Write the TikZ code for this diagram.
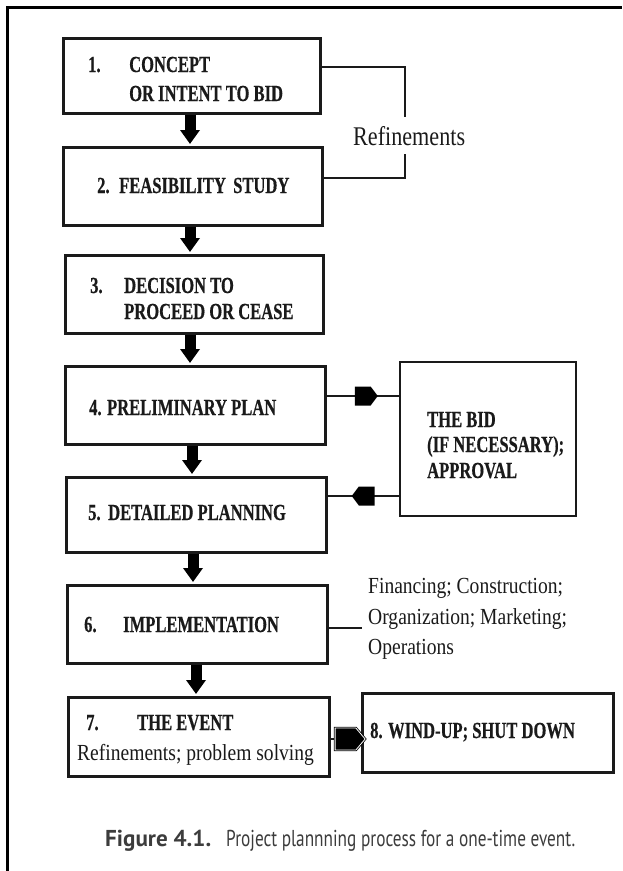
\documentclass[tikz,border=0pt]{standalone}
\usepackage{fontspec}
\usepackage{graphicx}
\usetikzlibrary{arrows.meta,shapes.arrows,calc}

% condensed Times-like faces for the stage labels and notes
\newfontfamily\boxfont[FakeStretch=0.72, FakeBold=0.5]{Liberation Serif}
\newfontfamily\notefont[FakeStretch=0.85]{Liberation Serif}
\newfontfamily\bracefont[FakeStretch=0.82]{Liberation Serif}
\newfontfamily\capfont{PT Sans}

\definecolor{ink}{HTML}{1A1A1A}

\tikzset{
  stage/.style={draw=ink, line width=3pt, inner sep=0pt, fill=white},
  heading/.style={anchor=base west, inner sep=0pt, text=ink,
    font={\boxfont\bfseries\fontsize{23}{27}\selectfont}},
  note/.style={anchor=base west, inner sep=0pt, text=ink,
    font={\notefont\fontsize{23}{27}\selectfont}},
  flow/.style={black, line width=11pt, -{Triangle[width=19pt,length=14pt]}, shorten >=1.5pt},
  link/.style={draw=ink, line width=2pt},
  blockhead/.style={single arrow, single arrow head extend=0pt, fill=black,
    inner sep=0pt, minimum width=19pt, minimum height=23pt, single arrow tip angle=106},
  caption/.style={anchor=base west, inner sep=0pt, text=ink!85,
    font={\capfont\fontsize{23}{27}\selectfont}},
}

\begin{document}
\begin{tikzpicture}[x=1pt,y=-1pt]
\useasboundingbox (0,0) rectangle (622,871);

% page frame
\draw[black, line width=3pt] (7,871) -- (7,7) -- (622,7);

% stage boxes
\node[stage, minimum width=257pt, minimum height=75pt] (b1) at (191.5,75.5) {};
\node[stage, minimum width=259pt, minimum height=78pt] (b2) at (192.5,186) {};
\node[stage, minimum width=258pt, minimum height=78pt] (b3) at (194,294) {};
\node[stage, minimum width=260pt, minimum height=78pt] (b4) at (195,405) {};
\node[stage, minimum width=260pt, minimum height=75pt] (b5) at (196,514.5) {};
\node[stage, minimum width=260pt, minimum height=78pt] (b6) at (197,624) {};
\node[stage, minimum width=261pt, minimum height=79pt] (b7) at (198.5,736.5) {};
\node[stage, minimum width=251pt, minimum height=79pt] (b8) at (487.5,732.5) {};
\node[stage, line width=2.2pt, minimum width=176pt, minimum height=154pt] (bid) at (488,439) {};

% stage labels
\node[heading] (t1n) at (88,72) {1.};
\node[heading] (t1a) at (129,72) {CONCEPT};
\node[heading] (t1b) at (129,101) {OR INTENT TO BID};
\node[heading] (t2n) at (97,193) {2.};
\node[heading] (t2a) at (119,193) {FEASIBILITY};
\node[heading] (t2b) at (233,193) {STUDY};
\node[heading] (t3n) at (90,293) {3.};
\node[heading] (t3a) at (124,293) {DECISION TO};
\node[heading] (t3b) at (124,319) {PROCEED OR CEASE};
\node[heading] (t4) at (89,415) {4. PRELIMINARY PLAN};
\node[heading] (t5n) at (88,520) {5.};
\node[heading] (t5a) at (108,520) {DETAILED PLANNING};
\node[heading] (t6n) at (84,632) {6.};
\node[heading] (t6a) at (123,632) {IMPLEMENTATION};
\node[heading] (t7n) at (86,730) {7.};
\node[heading] (t7a) at (137,730) {THE EVENT};
\node[note] (t7b) at (77,760) {Refinements; problem solving};
\node[heading] (t8) at (370,738) {8. WIND-UP; SHUT DOWN};
\node[heading] (tb1) at (427,427) {THE BID};
\node[heading] (tb2) at (427,452) {(IF NECESSARY);};
\node[heading] (tb3) at (427,478) {APPROVAL};

% implementation notes
\node[note] (s1) at (368,593) {Financing; Construction;};
\node[note] (s2) at (368,624) {Organization; Marketing;};
\node[note] (s3) at (368,654) {Operations};
\coordinate (sidetip) at (362,628);
\draw[link] ([yshift=-4pt]b6.east) -- (sidetip);

% refinement bracket between stages 1 and 2
\node[anchor=base west, inner xsep=0pt, inner ysep=9pt, text=ink,
  font={\bracefont\fontsize{27}{31}\selectfont}] (refine) at (353,145) {Refinements};
\draw[link, line width=1.6pt] ([yshift=8.5pt]b1.east) -| ([xshift=-4pt]refine.north);
\draw[link, line width=1.6pt] ([yshift=8pt]b2.east) -| ([xshift=-4pt]refine.south);

% main flow
\draw[flow] ([xshift=-1.5pt]b1.south) -- ([xshift=-1.5pt]b1.south |- b2.north);
\draw[flow] ([xshift=-2.5pt]b2.south) -- ([xshift=-2.5pt]b2.south |- b3.north);
\draw[flow] ([xshift=-4pt]b3.south) -- ([xshift=-4pt]b3.south |- b4.north);
\draw[flow] ([xshift=-3pt]b4.south) -- ([xshift=-3pt]b4.south |- b5.north);
\draw[flow] ([xshift=-3pt]b5.south) -- ([xshift=-3pt]b5.south |- b6.north);
\draw[flow] ([xshift=-1pt]b6.south) -- ([xshift=-1pt]b6.south |- b7.north);

% side connectors with block heads
\draw[link] ([yshift=9pt]b4.east) -- ([yshift=9pt]b4.east -| bid.west)
  node[blockhead, pos=0.5] (h1) {};
\draw[link] ([yshift=18.5pt]b5.east -| bid.west) -- ([yshift=18.5pt]b5.east)
  node[blockhead, shape border rotate=180, pos=0.45] (h2) {};
\draw[link] ([yshift=-2.5pt]b7.east) -- ([yshift=-2.5pt]b7.east -| b8.west)
  node[blockhead, pos=0.5, minimum width=22pt, minimum height=30pt,
       single arrow tip angle=100, draw=black, line width=0.8pt,
       double=white, double distance=0.8pt] (h3) {};

% caption
\node[caption] (capA) at (105,846) {\resizebox{106pt}{\height}{\bfseries Figure 4.1.}};
\node[caption] (capB) at (226,846) {\resizebox{349pt}{\height}{Project plannning process for a one-time event.}};
\end{tikzpicture}
\end{document}
